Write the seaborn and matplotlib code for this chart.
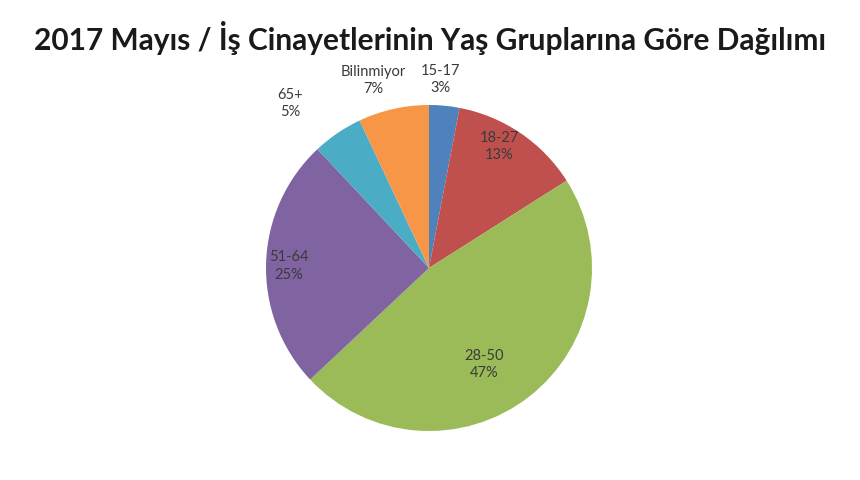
import matplotlib
matplotlib.use("Agg")
import matplotlib.pyplot as plt
import seaborn as sns
import numpy as np

sns.set_theme(style="white")
plt.rcParams['font.family'] = ['Lato', 'DejaVu Sans']

categories = ["15-17", "18-27", "28-50", "51-64", "65+", "Bilinmiyor"]
values = [3, 13, 47, 25, 5, 7]
title = "2017 Mayıs / İş Cinayetlerinin Yaş Gruplarına Göre Dağılımı"

colors = ["#4F81BD", "#C0504D", "#9BBB59", "#8064A2", "#4BACC6", "#F79646"]
label_dist = [1.16, 0.86, 0.68, 0.86, 1.32, 1.20]
angle_shift = [2, 4, -8, 1, 6, 4]

fig = plt.figure(figsize=(8.6, 4.8), dpi=100)
ax = fig.add_axes([0, 0, 1, 1])

cx, cy, r = 429, 480 - 268, 163
wedges, _ = ax.pie(values, colors=colors, startangle=90, counterclock=False,
                   center=(cx, cy), radius=r, frame=True,
                   wedgeprops=dict(linewidth=0))
ax.set_xlim(0, 860)
ax.set_ylim(0, 480)
ax.set_aspect('equal')
ax.axis('off')

for w, cat, v, d, s in zip(wedges, categories, values, label_dist, angle_shift):
    ang = np.deg2rad((w.theta1 + w.theta2) / 2 + s)
    x = cx + d * r * np.cos(ang)
    y = cy + d * r * np.sin(ang)
    ax.text(x, y, f"{cat}\n{v}%", ha='center', va='center', fontsize=10.5,
            color='#3a3a3a', linespacing=1.3)

fig.text(0.5, 0.921, title, ha='center', va='center', fontsize=21.5,
         fontweight='bold', color='#1a1a1a')

fig.savefig("out.png", dpi=100, facecolor='white')
